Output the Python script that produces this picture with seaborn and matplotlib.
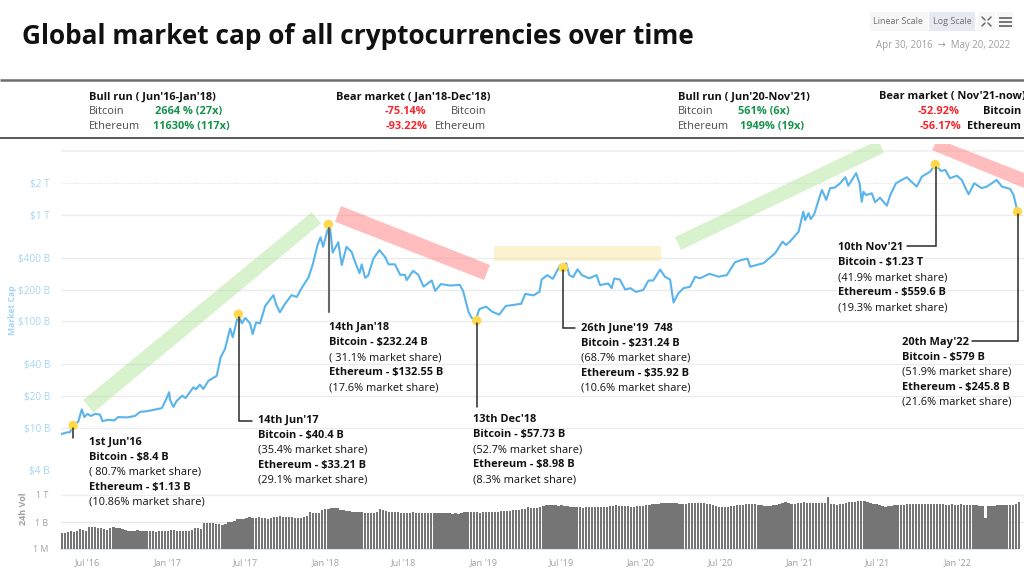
import datetime as dt
import matplotlib
matplotlib.use("Agg")
import matplotlib.pyplot as plt
import matplotlib.dates as mdates
from matplotlib.patches import Polygon, Rectangle
import numpy as np
import pandas as pd
import seaborn as sns

sns.set_theme(style="white")
plt.rcParams['font.family'] = ['Open Sans', 'DejaVu Sans']

# ---------- data ----------
START = dt.datetime(2016, 4, 30)
cap_days = [0,12,21,28,40,48,54,61,69,79,90,96,109,123,132,152,171,183,198,213,233,242,250,252,260,267,280,288,306,312,321,329,341,360,369,379,391,397,410,418,426,437,443,451,460,472,491,497,506,518,533,545,557,572,582,593,600,606,616,622,628,641,649,660,672,677,690,695,703,710,722,736,749,757,772,784,795,799,814,826,838,857,865,878,899,922,930,942,950,959,967,983,996,1013,1028,1045,1064,1073,1092,1106,1111,1124,1137,1154,1168,1175,1184,1194,1204,1221,1238,1246,1265,1273,1279,1292,1304,1316,1329,1346,1358,1369,1385,1396,1408,1416,1427,1439,1454,1466,1477,1499,1520,1539,1558,1574,1587,1593,1624,1651,1668,1676,1685,1705,1716,1720,1728,1733,1741,1755,1759,1769,1778,1789,1801,1813,1820,1838,1846,1851,1855,1861,1874,1882,1893,1909,1917,1930,1955,1978,1990,2009,2021,2034,2044,2055,2071,2082,2098,2111,2128,2140,2163,2175,2194,2202,2211]
cap_billion = [8.7,9.0,9.1,10.5,11.4,14.9,12.6,13.5,12.9,13.5,13.3,11.5,11.9,11.7,12.6,12.5,12.9,14.1,14.3,14.7,15.3,18.1,21.6,18.3,15.7,17.8,20,19,24,23,25.5,23.2,27.7,30.8,46,55,86,71,117,96,108,96,76,98,96,140,177,146,122,147,177,170,209,259,345,525,620,505,725,755,445,558,340,505,450,390,285,345,258,270,390,470,405,345,345,275,275,245,300,275,213,243,194,225,218,221,191,123,107,104,131,138,124,116,140,143,147,182,176,190,248,273,252,340,352,273,262,310,273,255,273,220,228,206,254,248,200,206,190,198,243,243,308,264,248,151,184,206,212,264,255,281,264,273,361,380,390,328,354,440,565,525,565,700,1080,900,1045,920,1020,1550,1730,1395,1800,1825,2000,2280,1900,2490,2000,1340,1665,1550,1610,1325,1465,1230,1550,2000,2280,1860,2310,2570,3020,2610,2670,2230,2360,2150,1575,2000,1800,1860,2150,1860,1770,1550,1080]
marker_days = [28,410,618,961,1161,2021,2211]
marker_billion = [10.5,117,820,102,322,3000,1080]
vol_million = [65,60,70,95,85,110,150,125,110,260,300,280,220,190,160,145,230,260,190,210,150,130,100,95,110,120,105,110,100,90,95,85,90,105,95,100,125,120,110,100,105,95,90,130,190,210,170,
840,700,800,780,650,620,520,600,900,1100,1400,2000,2200,2100,2500,3200,3000,2800,3300,3000,
2600,2100,2800,3400,3500,4100,3700,3900,3400,3600,2600,2500,3000,3500,5000,12000,9000,11000,10000,20000,28000,30000,35000,32000,33000,21000,20000,17000,15000,14000,13000,12000,11500,11000,10500,10000,10000,12000,25000,24000,16000,14000,13000,12000,11500,11000,11000,10500,11000,11500,11000,11000,10500,11000,10000,10500,9500,10000,10000,9500,9000,9000,8500,9000,8500,10000,11500,12000,13000,12500,12000,11000,12500,12000,12500,13000,13000,13500,15000,18000,
16000,18000,20000,23000,22000,25000,30000,42000,36000,33000,36000,45000,60000,84000,78000,72000,75000,68000,70000,60000,55000,50000,48000,45000,42000,40000,42000,41000,44000,46000,45000,45000,44000,50000,55000,62000,70000,66000,60000,58000,55000,52000,50000,56000,54000,60000,70000,80000,90000,100000,110000,120000,130000,125000,130000,120000,115000,110000,110000,105000,115000,120000,130000,125000,140000,135000,110000,90000,70000,60000,50000,42000,45000,50000,58000,65000,70000,80000,85000,95000,100000,110000,95000,80000,72000,65000,60000,62000,70000,80000,100000,130000,166000,130000,100000,110000,125000,140000,150000,125000,120000,130000,125000,135000,140000,140000,550000,110000,90000,85000,90000,110000,130000,166000,150000,170000,190000,232000,210000,150000,118000,105000,90000,75000,60000,50000,55000,65000,75000,84000,85000,80000,90000,95000,100000,100000,95000,100000,95000,105000,95000,100000,90000,95000,90000,85000,84000,90000,80000,85000,90000,75000,85000,80000,78000,70000,65000,60000,2600,60000,65000,62000,70000,72000,70000,75000,70000,85000,110000,150000]
cap_ticks = [2000,1000,400,200,100,40,20,10,4]
cap_tick_labels = ["$2 T","$1 T","$400 B","$200 B","$100 B","$40 B","$20 B","$10 B","$4 B"]
vol_ticks = [1e6,1e3,1]
vol_tick_labels = ["1 T","1 B","1 M"]
date_ticks = ["2016-07-01","2017-01-01","2017-07-01","2018-01-01","2018-07-01","2019-01-01","2019-07-01","2020-01-01","2020-07-01","2021-01-01","2021-07-01","2022-01-01"]
date_tick_labels = ["Jul '16","Jan '17","Jul '17","Jan '18","Jul '18","Jan '19","Jul '19","Jan '20","Jul '20","Jan '21","Jul '21","Jan '22"]
title = "Global market cap of all cryptocurrencies over time"
ann1 = ["1st Jun'16","Bitcoin - $8.4 B","( 80.7% market share)","Ethereum - $1.13 B","(10.86% market share)"]
ann2 = ["14th Jun'17","Bitcoin - $40.4 B","(35.4% market share)","Ethereum - $33.21 B","(29.1% market share)"]
ann3 = ["14th Jan'18","Bitcoin - $232.24 B","( 31.1% market share)","Ethereum - $132.55 B","(17.6% market share)"]
ann4 = ["13th Dec'18","Bitcoin - $57.73 B","(52.7% market share)","Ethereum - $8.98 B","(8.3% market share)"]
ann5 = ["26th June'19  748","Bitcoin - $231.24 B","(68.7% market share)","Ethereum - $35.92 B","(10.6% market share)"]
ann6 = ["10th Nov'21","Bitcoin - $1.23 T","(41.9% market share)","Ethereum - $559.6 B","(19.3% market share)"]
ann7 = ["20th May'22","Bitcoin - $579 B","(51.9% market share)","Ethereum - $245.8 B","(21.6% market share)"]

# ---------- layout helpers ----------
W, H = 1024, 576
PX_PER_DAY = 0.4326
fig = plt.figure(figsize=(10.24, 5.76), dpi=100, facecolor='white')

def axes_px(l, t, r, b):
    return fig.add_axes([l/W, 1-b/H, (r-l)/W, (b-t)/H])

x_min = mdates.date2num(START)
x_max = x_min + (1024-61)/PX_PER_DAY
to_dates = lambda d: [START + dt.timedelta(days=int(v)) for v in d]
tick_nums = [mdates.date2num(pd.Timestamp(t)) for t in date_ticks]

# ---------- main chart ----------
ax = axes_px(61, 144, 1024, 470)
ax.set_yscale('log')
cap_df = pd.DataFrame({'date': mdates.date2num(to_dates(cap_days)), 'cap': cap_billion})
sns.lineplot(data=cap_df, x='date', y='cap', estimator=None, color='#5ab4ec', linewidth=1.5, ax=ax, zorder=3)
mk_df = pd.DataFrame({'date': mdates.date2num(to_dates(marker_days)), 'cap': marker_billion})
sns.scatterplot(data=mk_df, x='date', y='cap', color='#ffd84d', s=46, edgecolor='none', ax=ax, zorder=6, clip_on=False)
ax.set_xlim(x_min, x_max)
ax.set_ylim(4, 4685)
ax.set_yticks(cap_ticks)
ax.set_yticklabels(cap_tick_labels, color='#a6d5f5', fontsize=7.2)
ax.minorticks_off()
ax.set_xticks([])
ax.tick_params(axis='y', length=0, pad=8)
ax.set_xlabel(''); ax.set_ylabel('')
for s in ax.spines.values():
    s.set_visible(False)
for v in [1000, 400, 200, 100, 40, 20, 10]:
    ax.axhline(v, color='#ececec', lw=1.0, zorder=0)
ax.axhline(2000, color='#e6e6e6', lw=0.8, ls=(0, (1, 1)), zorder=0)
ax.axhline(4000, color='#f0f0f0', lw=1.2, zorder=0)

# ---------- volume ----------
vx = axes_px(61, 495, 1024, 549)
vx.set_yscale('log')
vol_dates = x_min + 2 + 7*np.arange(len(vol_million))
vx.bar(vol_dates, vol_million, width=5.4, bottom=1, color='#757575', linewidth=0, zorder=3)
vx.set_xlim(x_min, x_max)
vx.set_ylim(1, 1e6)
vx.set_yticks(vol_ticks)
vx.set_yticklabels(vol_tick_labels, color='#a0a0a0', fontsize=6.4)
vx.minorticks_off()
vx.set_xticks(tick_nums)
vx.set_xticklabels(date_tick_labels, color='#a0a0a0', fontsize=6.6)
vx.tick_params(axis='y', length=0, pad=9)
vx.tick_params(axis='x', length=4, width=0.8, color='#dbe6f3', pad=2.5)
vx.set_xlabel(''); vx.set_ylabel('')
for s in ['top', 'left', 'right']:
    vx.spines[s].set_visible(False)
vx.spines['bottom'].set_color('#dbe6f3')
vx.spines['bottom'].set_bounds(x_min, x_min + (1018-61)/PX_PER_DAY)
vx.axhline(1e6, color='#eeeeee', lw=1, zorder=0, clip_on=False)
vx.axhline(1e3, color='#e9e9e9', lw=1, zorder=0)

# ---------- overlay in pixel space ----------
ov = fig.add_axes([0, 0, 1, 1], zorder=10)
ov.set_xlim(0, W); ov.set_ylim(H, 0); ov.axis('off'); ov.patch.set_alpha(0)

GREEN_BAND, RED_BAND, YELLOW_BAND = ('#a5e08c', 0.42), ('#ff7c7c', 0.5), ('#fbdf85', 0.38)
def band(pts, style):
    ov.add_patch(Polygon(pts, closed=True, facecolor=style[0], alpha=style[1], edgecolor='none', zorder=1))
band([(83.3,400),(311.7,212.3),(321,223.3),(93.3,412.7)], GREEN_BAND)
band([(341,206),(490,265),(484,280),(335,221.7)], RED_BAND)
band([(494.3,246),(661,246),(661,260.7),(494.3,260.7)], YELLOW_BAND)
band([(675,237),(870,144),(880,144),(884,152.7),(681,250)], GREEN_BAND)
band([(932,150),(935,144),(950,144),(1024,173),(1024,188)], RED_BAND)

ov.plot([0, W], [80, 80], color='#6e6e6e', lw=1.8, solid_capstyle='butt')
ov.plot([0, W], [138.3, 138.3], color='#2b2b2b', lw=1.1, solid_capstyle='butt')

ov.text(22, 44.5, title, fontsize=18.9, fontweight='bold', color='#111111', va='baseline', ha='left')

# header controls
UI = '#6f6f6f'
ov.add_patch(Rectangle((870, 12), 58, 19, facecolor='#f7f7f7', edgecolor='none'))
ov.add_patch(Rectangle((929, 12), 46, 19, facecolor='#e6ebf3', edgecolor='none'))
ov.add_patch(Rectangle((978, 12), 17, 19, facecolor='#f7f7f7', edgecolor='none'))
ov.add_patch(Rectangle((997, 12), 17, 19, facecolor='#f7f7f7', edgecolor='none'))
ov.text(898, 24, "Linear Scale", fontsize=6.5, color=UI, ha='center', va='baseline')
ov.text(952, 24, "Log Scale", fontsize=6.5, color=UI, ha='center', va='baseline')
ov.text(943, 48, "Apr 30, 2016  \u2192  May 20, 2022", fontsize=6.9, color='#a0a0a0', ha='center', va='baseline')
for y in (17.5, 21.5, 25.5):
    ov.plot([999, 1012], [y, y], color='#6a6a6a', lw=1.3, solid_capstyle='butt')
for (x0, y0, x1, y1) in [(982,17,985,20),(991,17,988,20),(982,26,985,23),(991,26,988,23)]:
    ov.plot([x0, x1], [y0, y1], color='#6a6a6a', lw=1.1)

# stats table
GREEN, RED, DARK = '#16924a', '#f5262c', '#4a4a4a'
FS = 7.9
def t(x, y, s, w='normal', c='#111111', ha='left', fs=FS):
    ov.text(x, y, s, fontsize=fs, fontweight=w, color=c, ha=ha, va='baseline', zorder=8)

R0, R1, R2 = 99.3, 114.3, 129.3
t(89, R0, "Bull run ( Jun'16-Jan'18)", 'bold')
t(89, R1, "Bitcoin", c=DARK); t(155, R1, "2664 % (27x)", 'bold', GREEN)
t(89, R2, "Ethereum", c=DARK); t(153, R2, "11630% (117x)", 'bold', GREEN)
t(336, R0, "Bear market ( Jan'18-Dec'18)", 'bold')
t(426, R1, "-75.14%", 'bold', RED, 'right'); t(486, R1, "Bitcoin", c=DARK, ha='right')
t(428, R2, "-93.22%", 'bold', RED, 'right'); t(486, R2, "Ethereum", c=DARK, ha='right')
t(678, R0, "Bull run ( Jun'20-Nov'21)", 'bold')
t(678, R1, "Bitcoin", c=DARK); t(738, R1, "561% (6x)", 'bold', GREEN)
t(678, R2, "Ethereum", c=DARK); t(740, R2, "1949% (19x)", 'bold', GREEN)
t(879, R0, "Bear market ( Nov'21-now)", 'bold')
t(960, R1, "-52.92%", 'bold', RED, 'right'); t(1021, R1, "Bitcoin", 'bold', ha='right')
t(961, R2, "-56.17%", 'bold', RED, 'right'); t(1021, R2, "Ethereum", 'bold', ha='right')

# callouts
def callout(x, y0, lines):
    for i, s in enumerate(lines):
        t(x, y0 + 15*i, s, 'bold' if i in (0, 1, 3) else 'normal')

callout(89, 445, ann1)
callout(258, 423, ann2)
callout(329, 330, ann3)
callout(473, 422, ann4)
callout(581, 331, ann5)
callout(838, 250, ann6)
callout(902, 345, ann7)

def leader(xs, ys, c='#2a2a2a', lw=1.1):
    ov.plot(xs, ys, color=c, lw=lw, solid_joinstyle='miter', zorder=4)
leader([73.3, 73.3], [428, 438])
leader([239, 239, 252], [317, 421, 421])
leader([329, 329], [228, 312], '#666666', 1.5)
leader([476.5, 476.5], [323, 407])
leader([563, 563, 575], [270, 328, 328])
leader([936.3, 936.3, 907], [167, 246, 246])
leader([1018, 1018, 972], [214, 341, 341])

# axis titles
ov.text(12.5, 310, "Market Cap", rotation=90, fontsize=6.2, fontweight='bold', color='#a6d5f5', ha='center', va='center')
ov.text(24, 509, "24h Vol", rotation=90, fontsize=6.5, fontweight='bold', color='#a0a0a0', ha='center', va='center')

fig.savefig('out.png', dpi=100)
